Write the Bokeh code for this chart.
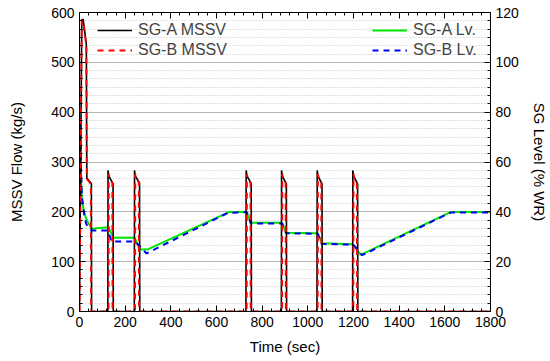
from bokeh.plotting import figure
from bokeh.models import (Range1d, LinearAxis, SingleIntervalTicker, Legend, LegendItem,
                          CustomLabelingPolicy)
from bokeh.embed import file_html
from bokeh.resources import INLINE

# ---- data ----
mssv_a_t = [0, 10, 16, 30, 32, 52, 53, 124, 125, 128, 147, 148, 240, 241, 244, 263, 264,
            729, 730, 733, 752, 753, 884, 885, 888, 906, 907, 1040, 1041, 1044, 1062, 1063,
            1196, 1197, 1200, 1218, 1219, 1800]
mssv_a = [0, 586, 586, 536, 268, 257, 0, 0, 283, 272, 256, 0, 0, 283, 272, 258, 0,
          0, 283, 272, 257, 0, 0, 283, 272, 256, 0, 0, 283, 272, 256, 0,
          0, 283, 272, 256, 0, 0]

mssv_b_t = [0, 10, 16, 30, 32, 50, 51, 127, 128, 131, 144, 145, 243, 244, 247, 260, 261,
            732, 733, 736, 749, 750, 887, 888, 891, 903, 904, 1043, 1044, 1047, 1059, 1060,
            1199, 1200, 1203, 1215, 1216, 1800]
mssv_b = [0, 584, 584, 532, 266, 256, 0, 0, 276, 268, 258, 0, 0, 276, 268, 259, 0,
          0, 276, 268, 258, 0, 0, 276, 268, 258, 0, 0, 276, 268, 258, 0,
          0, 276, 268, 258, 0, 0]

lv_a_t = [0, 3, 6, 10, 20, 30, 53, 125, 150, 241, 264, 299, 654, 730, 753, 885, 907,
          1041, 1063, 1197, 1231, 1625, 1800]
lv_a = [40, 68, 55, 45, 40, 37, 33.2, 33.8, 29.6, 29.6, 24.9, 24.9, 39.9, 39.9, 35.6, 35.6, 31.6,
        31.4, 27.4, 27.0, 22.7, 39.9, 39.9]

lv_b_t = [0, 3, 6, 10, 20, 30, 53, 125, 140, 244, 293, 650, 733, 750, 888, 905,
          1044, 1060, 1200, 1238, 1625, 1800]
lv_b = [40, 78, 60, 47, 39, 35, 32.5, 32.5, 28.1, 28.1, 23.3, 39.6, 39.9, 35.3, 35.3, 31.4,
        31.2, 27.2, 26.8, 22.6, 39.7, 39.7]

FONT = "Liberation Sans"

p = figure(width=550, height=361, output_backend="svg", toolbar_location=None,
           x_range=Range1d(0, 1800), y_range=Range1d(0, 600),
           min_border_left=79, min_border_right=60, min_border_top=12, min_border_bottom=50,
           background_fill_color="white", border_fill_color="white")
p.extra_y_ranges = {"lv": Range1d(0, 120)}
p.outline_line_color = "black"
p.outline_line_width = 1

# grids
p.xgrid.visible = False
p.ygrid.grid_line_color = "#b4b4b4"
p.ygrid.grid_line_width = 1
p.ygrid.minor_grid_line_color = "#c4c4c4"
p.ygrid.minor_grid_line_dash = "1 2"
p.ygrid.minor_grid_line_width = 1

def style_axis(ax):
    ax.axis_line_color = "black"
    ax.major_tick_in = 6
    ax.major_tick_out = 0
    ax.minor_tick_in = 3
    ax.minor_tick_out = 0
    ax.major_tick_line_color = "black"
    ax.minor_tick_line_color = "black"
    ax.major_label_text_font = FONT
    ax.major_label_text_font_size = "14px"
    ax.major_label_text_color = "black"
    ax.axis_label_text_font = FONT
    ax.axis_label_text_font_size = "15px"
    ax.axis_label_text_font_style = "normal"
    ax.axis_label_text_color = "black"

xax = p.xaxis[0]
xax.ticker = SingleIntervalTicker(interval=200, num_minor_ticks=5)
xax.axis_label = "Time (sec)"
xax.axis_label_standoff = 8
style_axis(xax)

yax = p.yaxis[0]
yax.ticker = SingleIntervalTicker(interval=100, num_minor_ticks=6)
yax.axis_label = "MSSV Flow (kg/s)"
yax.axis_label_standoff = 23
style_axis(yax)
p.ygrid.ticker = yax.ticker

rax = LinearAxis(y_range_name="lv", ticker=SingleIntervalTicker(interval=20, num_minor_ticks=6),
                 axis_label="SG Level (% WR)", axis_label_standoff=9)
style_axis(rax)
p.add_layout(rax, "right")

tax = LinearAxis(ticker=SingleIntervalTicker(interval=200, num_minor_ticks=5))
style_axis(tax)
tax.major_label_text_font_size = "1px"
tax.major_label_standoff = 0
tax.major_label_policy = CustomLabelingPolicy(
    code="for (const i of Array.from(indices)) { indices.unset(i) }\nreturn indices")
p.add_layout(tax, "above")

# lines
g_a = p.line(lv_a_t, lv_a, y_range_name="lv", line_color="#00e600", line_width=2)
g_b = p.line(lv_b_t, lv_b, y_range_name="lv", line_color="#0000ff", line_width=2, line_dash="6 5")
r_a = p.line(mssv_a_t, mssv_a, line_color="black", line_width=1.6)
r_b = p.line(mssv_b_t, mssv_b, line_color="#ff0000", line_width=2, line_dash="6 5")

def make_legend(items, loc):
    lg = Legend(items=items, location=loc, orientation="vertical",
                glyph_width=35, glyph_height=20, label_standoff=6, spacing=0,
                padding=0, margin=0, border_line_alpha=0, background_fill_alpha=0,
                label_text_font=FONT, label_text_font_size="16px", label_height=20)
    return lg

leg1 = make_legend([LegendItem(label="SG-A MSSV", renderers=[r_a]),
                    LegendItem(label="SG-B MSSV", renderers=[r_b])], (18, 251))
leg2 = make_legend([LegendItem(label="SG-A Lv.", renderers=[g_a]),
                    LegendItem(label="SG-B Lv.", renderers=[g_b])], (293, 251))
p.add_layout(leg1, "center")
p.add_layout(leg2, "center")

open("out.html", "w").write(file_html(p, INLINE))
